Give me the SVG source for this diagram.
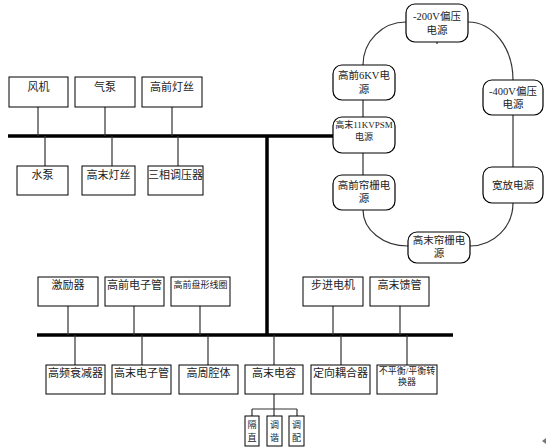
<svg xmlns="http://www.w3.org/2000/svg" width="549" height="448" viewBox="0 0 549 448">
<style>
.b{fill:#fff;stroke:#000;stroke-width:1}
.r{fill:#fff;stroke:#000;stroke-width:1.2}
.t{font-family:"Liberation Serif","Noto Sans CJK SC",serif;font-size:11px;fill:#222;text-anchor:middle}
.m{font-size:10.5px}
.s{font-size:9px}
.c{stroke:#333;stroke-width:1.2;fill:none}
.bus{stroke:#000;stroke-width:3.5;fill:none}
</style>
<rect width="549" height="448" fill="#fff"/>
<g id="connectors">
<line class="bus" x1="8" y1="136" x2="334" y2="136"/>
<line class="bus" x1="267" y1="136" x2="267" y2="335"/>
<line class="bus" x1="37" y1="335" x2="453" y2="335"/>
<path class="c" d="M38 107V136M105 107V136M172 107V136M45 136V166M112 136V166M178 136V166"/>
<path class="c" d="M68 306V335M134 306V335M200 306V335M333 306V335M400 306V335"/>
<path class="c" d="M75 335V365M142 335V365M208 335V365M274 335V365M341 335V365M407 335V365"/>
<path class="c" d="M274 394V409M252 409H297M252 409V416M274 409V416M297 409V416"/>
<path class="c" d="M363 65A43 43 0 0 1 406 22"/>
<path class="c" d="M468 22A45 58 0 0 1 513 80"/>
<path class="c" d="M513 115V167M363 100V117M363 153V175M437 40V44"/>
<path class="c" d="M513 203A43 43 0 0 1 470 246"/>
<path class="c" d="M363 210A45 36 0 0 0 408 246"/>
</g>
<g id="fengji"><rect class="b" x="9" y="77" width="59" height="30"/><text class="t" x="38.5" y="91">风机</text></g>
<g id="qibeng"><rect class="b" x="75" y="77" width="60" height="30"/><text class="t" x="105" y="91">气泵</text></g>
<g id="gqdengsi"><rect class="b" x="142" y="77" width="60" height="30"/><text class="t" x="172" y="91">高前灯丝</text></g>
<g id="shuibeng"><rect class="b" x="17" y="166" width="51" height="29"/><text class="t" x="42.5" y="179">水泵</text></g>
<g id="gmdengsi"><rect class="b" x="82" y="166" width="53" height="29"/><text class="t" x="108.5" y="179">高末灯丝</text></g>
<g id="sanxiang"><rect class="b" x="148" y="166" width="55" height="29"/><text class="t" x="175.5" y="179">三相调压器</text></g>
<g id="jiliqi"><rect class="b" x="38" y="277" width="60" height="29"/><text class="t" x="68" y="289">激励器</text></g>
<g id="gqdianziguan"><rect class="b" x="105" y="277" width="59" height="29"/><text class="t" x="134.5" y="289">高前电子管</text></g>
<g id="panxing"><rect class="b" x="171" y="277" width="59" height="29"/><text class="t s" x="200.5" y="288">高前盘形线圈</text></g>
<g id="bujin"><rect class="b" x="303" y="277" width="60" height="29"/><text class="t" x="333" y="289">步进电机</text></g>
<g id="kuiguan"><rect class="b" x="370" y="277" width="59" height="29"/><text class="t" x="399.5" y="289">高末馈管</text></g>
<g id="shuaijian"><rect class="b" x="46" y="365" width="59" height="29"/><text class="t" x="75.5" y="377">高频衰减器</text></g>
<g id="gmdianziguan"><rect class="b" x="112" y="365" width="59" height="29"/><text class="t" x="141.5" y="377">高末电子管</text></g>
<g id="qiangti"><rect class="b" x="179" y="365" width="59" height="29"/><text class="t" x="208.5" y="377">高周腔体</text></g>
<g id="dianrong"><rect class="b" x="245" y="365" width="58" height="29"/><text class="t" x="274" y="377">高末电容</text></g>
<g id="ouheqi"><rect class="b" x="311" y="365" width="59" height="29"/><text class="t" x="340.5" y="377">定向耦合器</text></g>
<g id="zhuanhuan"><rect class="b" x="377" y="365" width="60" height="29"/><text class="t s" x="407" y="374">不平衡/平衡转</text><text class="t s" x="407" y="385">换器</text></g>
<g id="gezhi"><rect class="b" x="245" y="416" width="14" height="30"/><text class="t s" x="252" y="428">隔</text><text class="t s" x="252" y="441">直</text></g>
<g id="tiaoxie"><rect class="b" x="267" y="416" width="15" height="30"/><text class="t s" x="274.5" y="428">调</text><text class="t s" x="274.5" y="441">谐</text></g>
<g id="tiaopei"><rect class="b" x="289" y="416" width="15" height="30"/><text class="t s" x="296.5" y="428">调</text><text class="t s" x="296.5" y="441">配</text></g>
<g id="p200"><rect class="r" x="406" y="4" width="62" height="38" rx="9"/><text class="t m" x="437" y="20">-200V偏压</text><text class="t m" x="437" y="34">电源</text></g>
<g id="p6kv"><rect class="r" x="333" y="65" width="62" height="35" rx="9"/><text class="t m" x="364" y="79">高前6KV电</text><text class="t m" x="364" y="93">源</text></g>
<g id="p400"><rect class="r" x="483" y="80" width="60" height="35" rx="9"/><text class="t m" x="513" y="95">-400V偏压</text><text class="t m" x="513" y="108">电源</text></g>
<g id="p11kv"><rect class="r" x="333" y="117" width="62" height="36" rx="9"/><text class="t s" x="364" y="128">高末11KVPSM</text><text class="t s" x="364" y="140">电源</text></g>
<g id="pqlz"><rect class="r" x="333" y="175" width="62" height="35" rx="9"/><text class="t m" x="364" y="189">高前帘栅电</text><text class="t m" x="364" y="202">源</text></g>
<g id="pkuanfang"><rect class="r" x="483" y="167" width="60" height="36" rx="9"/><text class="t m" x="513" y="189">宽放电源</text></g>
<g id="pmlz"><rect class="r" x="408" y="232" width="62" height="31" rx="9"/><text class="t m" x="439" y="244">高末帘栅电</text><text class="t m" x="439" y="257">源</text></g>
<polygon points="542,441 546,438 546,444" fill="#777"/>
</svg>
